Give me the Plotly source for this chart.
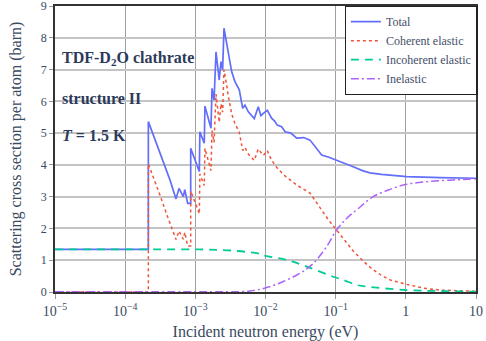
import plotly.graph_objects as go

# ---- data (energy in eV, cross section in barn) ----
total_E = [1e-5, 2.14e-4, 2.14e-4, 2.5e-4, 3.13e-4, 3.8e-4, 4.36e-4, 5.3e-4, 5.85e-4, 6.73e-4, 7.08e-4, 7.78e-4,
           8.59e-4, 8.59e-4, 1.14e-3, 1.16e-3, 1.34e-3, 1.37e-3, 1.67e-3, 1.73e-3, 1.85e-3, 1.97e-3,
           2.19e-3, 2.32e-3, 2.45e-3, 2.56e-3, 2.80e-3, 2.92e-3, 3.30e-3, 3.67e-3, 4.23e-3, 4.73e-3,
           5.10e-3, 5.69e-3, 6.3e-3, 6.92e-3, 7.89e-3, 8.6e-3, 9.31e-3, 1.06e-2, 1.22e-2, 1.35e-2, 1.47e-2,
           1.7e-2, 1.90e-2, 2.3e-2, 2.78e-2, 3.5e-2, 4.31e-2, 5.2e-2, 6.32e-2, 0.08, 0.103, 0.14,
           0.178, 0.24, 0.308, 0.45, 0.594, 1.03, 3.07, 10.0]
total_S = [1.34, 1.34, 5.36, 4.95, 4.35, 3.85, 3.52, 2.93, 3.26, 3.00, 3.22, 2.79,
           2.79, 4.52, 3.79, 5.04, 4.68, 5.85, 5.15, 6.41, 6.04, 7.56,
           6.67, 7.25, 6.99, 8.30, 7.83, 7.55, 6.93, 6.62, 6.36, 5.78,
           5.88, 5.67, 5.55, 5.46, 5.83, 5.55, 5.62, 5.72, 5.47, 5.38, 5.25,
           5.20, 5.04, 5.00, 4.84, 4.86, 4.78, 4.55, 4.31, 4.24, 4.15, 4.05,
           3.94, 3.82, 3.75, 3.70, 3.68, 3.63, 3.60, 3.58]

coh_E = [1e-5, 2.14e-4, 2.14e-4, 2.5e-4, 3.13e-4, 3.8e-4, 4.36e-4, 5.3e-4, 5.85e-4, 6.73e-4, 7.08e-4, 7.78e-4,
         8.59e-4, 8.59e-4, 1.14e-3, 1.16e-3, 1.34e-3, 1.37e-3, 1.67e-3, 1.73e-3, 1.85e-3, 1.97e-3,
         2.19e-3, 2.32e-3, 2.45e-3, 2.56e-3, 2.80e-3, 2.92e-3, 3.30e-3, 3.67e-3, 4.23e-3, 4.73e-3,
         5.10e-3, 5.69e-3, 6.92e-3, 7.89e-3, 9.31e-3, 1.06e-2, 1.22e-2, 1.47e-2, 1.90e-2, 2.78e-2,
         4.31e-2, 6.32e-2, 0.08, 0.103, 0.14, 0.178, 0.24, 0.308, 0.45, 0.594, 1.03, 1.8, 3.07, 10.0]
coh_S = [0.0, 0.0, 4.03, 3.60, 3.05, 2.52, 2.18, 1.65, 1.92, 1.66, 1.88, 1.45,
         1.45, 3.18, 2.46, 3.71, 3.35, 4.52, 3.82, 5.08, 4.71, 6.23,
         5.34, 5.92, 5.66, 6.99, 6.50, 6.22, 5.60, 5.30, 5.03, 4.45,
         4.55, 4.34, 4.14, 4.50, 4.30, 4.45, 4.15, 3.90, 3.65, 3.37,
         3.11, 2.58, 2.25, 1.95, 1.58, 1.29, 1.00, 0.78, 0.52, 0.38, 0.24, 0.12, 0.06, 0.02]

incoh_E = [1e-5, 2.14e-4, 1.16e-3, 3.48e-3, 8.34e-3, 1.04e-2, 2.0e-2, 3.86e-2, 9.25e-2,
           0.128, 0.2, 0.277, 1.03, 3.07, 10.0]
incoh_S = [1.34, 1.34, 1.34, 1.30, 1.20, 1.13, 1.01, 0.80, 0.48,
           0.38, 0.22, 0.17, 0.06, 0.03, 0.01]

inel_E = [1e-5, 1e-3, 6.0e-3, 1.04e-2, 1.79e-2, 3.1e-2, 4.8e-2, 7.44e-2, 0.103,
          0.144, 0.208, 0.343, 0.594, 1.03, 1.98, 4.26, 10.0]
inel_S = [0.01, 0.01, 0.03, 0.14, 0.33, 0.59, 0.90, 1.43, 1.95,
          2.32, 2.62, 3.00, 3.23, 3.39, 3.47, 3.52, 3.56]

x_tick_vals = [1e-5, 1e-4, 1e-3, 1e-2, 1e-1, 1, 10]
x_tick_text = ["10<sup>\u22125</sup>", "10<sup>\u22124</sup>", "10<sup>\u22123</sup>",
               "10<sup>\u22122</sup>", "10<sup>\u22121</sup>", "1", "10"]

SERIF = "Liberation Serif, Times New Roman, serif"
TXT = "#3a4a62"

fig = go.Figure()
fig.add_trace(go.Scatter(x=total_E, y=total_S, mode="lines", name="Total",
                         line=dict(color="#636efa", width=1.7, dash="solid")))
fig.add_trace(go.Scatter(x=coh_E, y=coh_S, mode="lines", name="Coherent elastic",
                         line=dict(color="#ef553b", width=1.5, dash="dot")))
fig.add_trace(go.Scatter(x=incoh_E, y=incoh_S, mode="lines", name="Incoherent elastic",
                         line=dict(color="#00cc96", width=1.8, dash="8px,6px"), line_shape="spline"))
fig.add_trace(go.Scatter(x=inel_E, y=inel_S, mode="lines", name="Inelastic",
                         line=dict(color="#ab63fa", width=1.5, dash="8px,3px,2px,3px"), line_shape="spline"))

fig.update_layout(
    width=486, height=341,
    margin=dict(l=55, r=10, t=6, b=49),
    plot_bgcolor="white", paper_bgcolor="white",
    font=dict(family=SERIF, color=TXT),
    showlegend=True,
    legend=dict(x=1.004, y=1.0, xanchor="right", yanchor="top",
                bgcolor="white", bordercolor="#222", borderwidth=1.2,
                font=dict(family=SERIF, size=12, color="#45506a"),
                itemwidth=30, tracegroupgap=0),
)
fig.update_xaxes(type="log", range=[-5, 1], tickvals=x_tick_vals, ticktext=x_tick_text,
                 showgrid=True, gridcolor="#a0a0a0", gridwidth=1.2, automargin=False,
                 ticklabeloverflow="allow",
                 showline=True, linecolor="#333", linewidth=1.5, mirror=True,
                 ticks="outside", ticklen=5, tickcolor="#999",
                 tickfont=dict(family=SERIF, size=14, color=TXT),
                 title=dict(text="Incident neutron energy (eV)", font=dict(family=SERIF, size=16, color=TXT)))
fig.update_yaxes(range=[0, 9], dtick=1, automargin=False,
                 ticklabeloverflow="allow",
                 showgrid=True, gridcolor="#c4c4c4", gridwidth=2, zeroline=False,
                 showline=True, linecolor="#333", linewidth=1.5, mirror=True,
                 ticks="outside", ticklen=4, tickcolor="#999",
                 tickfont=dict(family=SERIF, size=12, color=TXT),
                 title=dict(text="Scattering cross section per atom (barn)", font=dict(family=SERIF, size=16, color=TXT)))

ann_font = dict(family=SERIF, size=16, color="#2c3a5a")
fig.add_annotation(x=0.012, y=7.36, xref="paper", yref="y", xanchor="left", yanchor="middle",
                   text="<b>TDF-D<sub>2</sub>O clathrate</b>", showarrow=False, font=ann_font)
fig.add_annotation(x=0.012, y=6.1, xref="paper", yref="y", xanchor="left", yanchor="middle",
                   text="<b>structure II</b>", showarrow=False, font=ann_font)
fig.add_annotation(x=0.012, y=4.94, xref="paper", yref="y", xanchor="left", yanchor="middle",
                   text="<b><i>T</i> = 1.5 K</b>", showarrow=False, font=ann_font)

fig.write_html("out.html", config={"displayModeBar": False},
               post_script="document.body.style.margin='0';")
